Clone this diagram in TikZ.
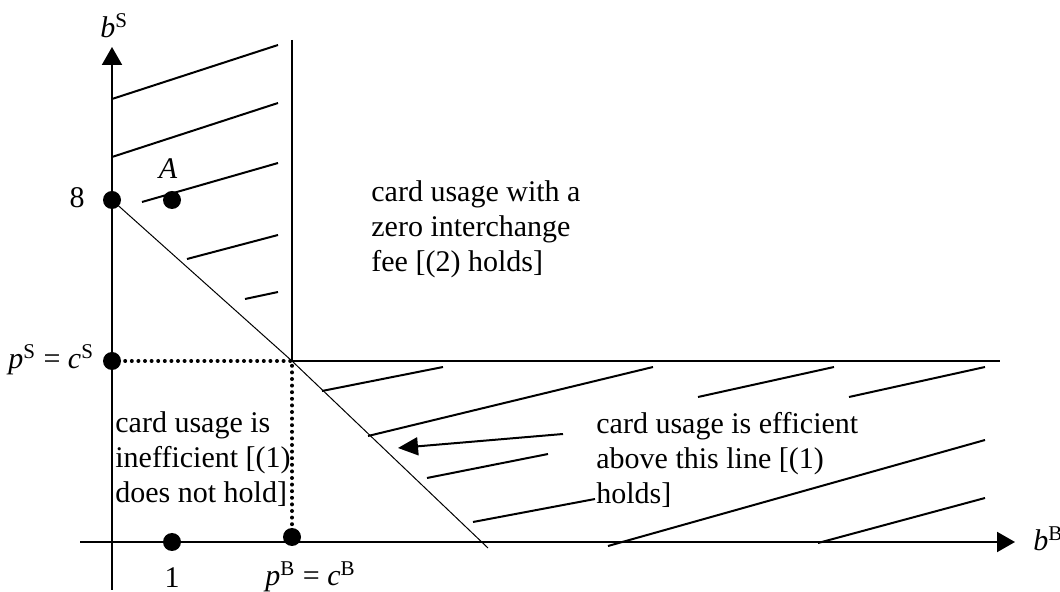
\documentclass[tikz,border=0pt]{standalone}
\usepackage{fontspec}
\setmainfont{Liberation Serif}
\usetikzlibrary{arrows.meta}
\begin{document}
\begin{tikzpicture}[x=0.5pt,y=-0.5pt,
  every node/.style={font=\fontsize{15}{17.5}\selectfont, inner sep=0pt},
  dot/.style={circle, fill=black, minimum size=9pt, inner sep=0pt},
  axis/.style={line width=1pt},
  hatch/.style={line width=1pt},
  thin line/.style={line width=0.5pt},
  axtip/.style={-{Triangle[length=9pt,width=10pt]}},
  ptrtip/.style={-{Triangle[length=10pt,width=9pt]}},
  dotline/.style={line width=2pt, line cap=round, dash pattern=on 0pt off 3.3pt},
  lbl/.style={align=left, anchor=base west}]
\clip (0,0) rectangle (1060,592);
% axes
\coordinate (ybot) at (112,590);
\coordinate (ytop) at (112,47);
\coordinate (xleft) at (80,542);
\coordinate (xright) at (1015,542);
\draw[axis,axtip] (ybot) -- (ytop);
\draw[axis,axtip] (xleft) -- (xright);
% region boundary
\coordinate (vtop) at (292,40);
\coordinate (corner) at (292,361);
\coordinate (hend) at (1000,361);
\draw[axis] (vtop) -- (corner) -- (hend);
% dots
\node[dot] (d8) at (112,200) {};
\node[dot] (dA) at (172,200) {};
\node[dot] (dpS) at (112,361) {};
\node[dot] (d1) at (172,542) {};
\node[dot] (dpB) at (292,537) {};
% dotted lines
\draw[dotline] (dpS.center) -- (corner) -- (dpB.center);
% diagonal
\coordinate (dend) at (488,548);
\draw[thin line] (d8.center) -- (corner) -- (dend);
% hatches top-left
\draw[hatch] (112,99) -- (278,45);
\draw[hatch] (112,157) -- (278,103);
\draw[hatch] (142,202) -- (278,163);
\draw[hatch] (187,259) -- (278,235);
\draw[hatch] (245,299) -- (278,292);
% hatches bottom-right
\draw[hatch] (322,391) -- (443,367);
\draw[hatch] (368,436) -- (653,367);
\draw[hatch] (698,397) -- (834,367);
\draw[hatch] (849,397) -- (985,367);
\draw[hatch] (427,478) -- (548,454);
\draw[hatch] (473,522) -- (595,499);
\draw[hatch] (608,546) -- (985,440);
\draw[hatch] (818,543) -- (985,498);
% pointer arrow
\coordinate (pstart) at (563,434);
\coordinate (ptip) at (398,448);
\draw[hatch,ptrtip] (pstart) -- (ptip);
% labels
\node[anchor=base west] (lbS) at (100,38) {\textit{b}\textsuperscript{S}};
\node[anchor=base] (l8) at (77,208) {8};
\node[anchor=base] (lA) at (168,179) {\textit{A}};
\node[anchor=base west] (lpS) at (8,369) {\textit{p}\textsuperscript{S} = \textit{c}\textsuperscript{S}};
\node[anchor=base] (l1) at (172,588) {1};
\node[anchor=base west] (lpB) at (265,586) {\textit{p}\textsuperscript{B} = \textit{c}\textsuperscript{B}};
\node[anchor=base west] (lbB) at (1033,551) {\textit{b}\textsuperscript{B}};
% texts (anchor is the baseline of the last line)
\node[lbl] (tzero) at (371,272) {card usage with a\\zero interchange\\fee [(2) holds]};
\node[lbl] (tineff) at (115,503) {card usage is\\inefficient [(1)\\does not hold]};
\node[lbl] (teff) at (596,504) {card usage is efficient\\above this line [(1)\\holds]};
\end{tikzpicture}
\end{document}
